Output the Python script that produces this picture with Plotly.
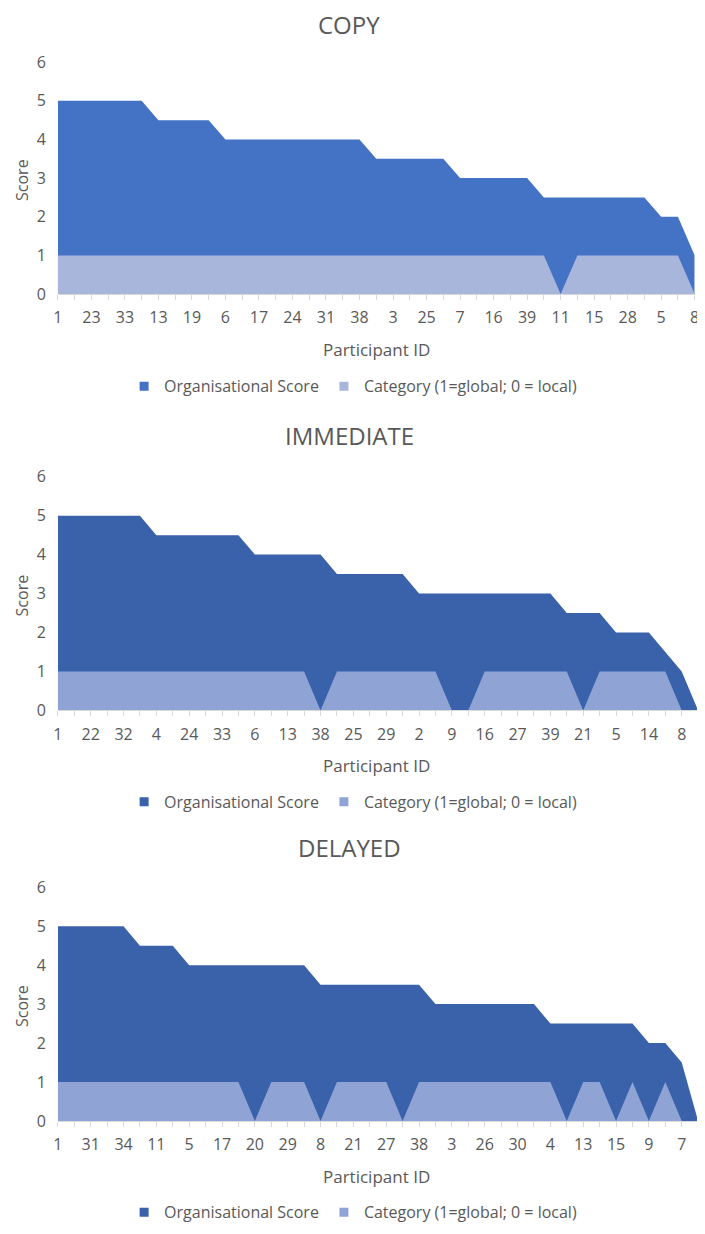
import plotly.graph_objects as go
from plotly.subplots import make_subplots

# participant ids in plotted order (only every other id is labelled on the axis)
copy_ids = [1, 2, 23, 4, 33, 9, 13, 10, 19, 12, 6, 14, 17, 18, 24, 20, 31, 21, 38, 22,
            3, 26, 25, 27, 7, 29, 16, 30, 39, 32, 11, 34, 15, 35, 28, 36, 5, 37, 8]
copy_org = [5, 5, 5, 5, 5, 5, 4.5, 4.5, 4.5, 4.5, 4, 4, 4, 4, 4, 4, 4, 4, 4,
            3.5, 3.5, 3.5, 3.5, 3.5, 3, 3, 3, 3, 3, 2.5, 2.5, 2.5, 2.5, 2.5, 2.5, 2.5,
            2, 2, 1]
copy_cat = [1, 1, 1, 1, 1, 1, 1, 1, 1, 1, 1, 1, 1, 1, 1, 1, 1, 1, 1, 1,
            1, 1, 1, 1, 1, 1, 1, 1, 1, 1, 0, 1, 1, 1, 1, 1, 1, 1, 0]

imm_ids = [1, 3, 22, 7, 32, 10, 4, 11, 24, 12, 33, 15, 6, 17, 13, 18, 38, 19, 25, 20,
           29, 23, 2, 26, 9, 28, 16, 30, 27, 31, 39, 34, 21, 35, 5, 36, 14, 37, 8, 40]
imm_org = [5, 5, 5, 5, 5, 5, 4.5, 4.5, 4.5, 4.5, 4.5, 4.5, 4, 4, 4, 4, 4,
           3.5, 3.5, 3.5, 3.5, 3.5, 3, 3, 3, 3, 3, 3, 3, 3, 3,
           2.5, 2.5, 2.5, 2, 2, 2, 1.5, 1, 0]
imm_cat = [1, 1, 1, 1, 1, 1, 1, 1, 1, 1, 1, 1, 1, 1, 1, 1, 0, 1, 1, 1,
           1, 1, 1, 1, 0, 0, 1, 1, 1, 1, 1, 1, 0, 1, 1, 1, 1, 1, 0, 0]

del_ids = [1, 2, 31, 6, 34, 10, 11, 12, 5, 14, 17, 16, 20, 18, 29, 19, 8, 22, 21, 23,
           27, 24, 38, 25, 3, 28, 26, 32, 30, 33, 4, 35, 13, 36, 15, 37, 9, 39, 7, 40]
del_org = [5, 5, 5, 5, 5, 4.5, 4.5, 4.5, 4, 4, 4, 4, 4, 4, 4, 4,
           3.5, 3.5, 3.5, 3.5, 3.5, 3.5, 3.5, 3, 3, 3, 3, 3, 3, 3,
           2.5, 2.5, 2.5, 2.5, 2.5, 2.5, 2, 2, 1.5, 0]
del_cat = [1, 1, 1, 1, 1, 1, 1, 1, 1, 1, 1, 1, 0, 1, 1, 1, 0, 1, 1, 1,
           1, 0, 1, 1, 1, 1, 1, 1, 1, 1, 1, 0, 1, 1, 0, 1, 0, 1, 0, 0]

titles = ["COPY", "IMMEDIATE", "DELAYED"]
series_names = ["Organisational Score", "Category (1=global; 0 = local)"]

panels = [
    (copy_ids, copy_org, copy_cat, "#4472C4", "#A9B6DB"),
    (imm_ids, imm_org, imm_cat, "#3A62AB", "#8FA3D5"),
    (del_ids, del_org, del_cat, "#3A62AB", "#8FA3D5"),
]

W, H = 705, 1234
OFF = 8  # the page body adds an 8px margin around the figure
FONT = "Open Sans"
GREY = "#595959"

def px(x):
    return (x - OFF) / W

def py(y):
    return 1 - (y - OFF) / H

# page pixel positions of each panel
geo = [
    dict(top=52, bot=288, title=14, xt=345, leg=382, right=699.5),
    dict(top=474, bot=712, title=432, xt=768, leg=805, right=703),
    dict(top=892, bot=1130, title=852, xt=1187, leg=1223, right=703),
]

fig = make_subplots(rows=3, cols=1)
annotations = []

for k, (ids, org, cat, dark, light) in enumerate(panels):
    r = k + 1
    leg = "legend" if k == 0 else f"legend{k + 1}"
    xs = [str(i) for i in ids]
    fig.add_trace(go.Scatter(x=xs, y=org, fill="tozeroy", mode="lines",
                             line=dict(width=0, color=dark), fillcolor=dark,
                             showlegend=False), row=r, col=1)
    fig.add_trace(go.Scatter(x=xs, y=cat, fill="tozeroy", mode="lines",
                             line=dict(width=0, color=light), fillcolor=light,
                             showlegend=False), row=r, col=1)
    # legend entries as square markers
    for name, c in zip(series_names, [dark, light]):
        fig.add_trace(go.Scatter(x=[None], y=[None], mode="markers", name=name,
                                 marker=dict(symbol="square", size=9, color=c),
                                 legend=leg), row=r, col=1)

    g = geo[k]
    ticktext = [s if j % 2 == 0 else "" for j, s in enumerate(xs)]
    fig.update_xaxes(type="category", categoryorder="array", categoryarray=xs,
                     range=[0, len(xs) - 1], tickmode="array", tickvals=xs,
                     ticktext=ticktext, ticks="outside", ticklen=5, tickcolor="#d9d9d9",
                     showline=True, linecolor="#d9d9d9", showgrid=False, zeroline=False,
                     tickfont=dict(size=16, color=GREY, family=FONT),
                     tickangle=0, ticklabelstandoff=4,
                     domain=[px(53.5), px(g["right"])], row=r, col=1)
    fig.update_yaxes(range=[0, 6], dtick=1, showgrid=False, zeroline=False,
                     showline=False, ticks="", ticklabelstandoff=11,
                     tickfont=dict(size=16, color=GREY, family=FONT),
                     domain=[py(g["bot"]), py(g["top"])], row=r, col=1)

    annotations.append(dict(text=titles[k], x=px(349), y=py(g["title"]), xref="paper",
                            yref="paper", showarrow=False, xanchor="center", yanchor="middle",
                            font=dict(size=24, color=GREY, family=FONT)))
    annotations.append(dict(text="Score", x=9 / W, y=py((g["top"] + g["bot"]) / 2 + 2),
                            xref="paper", yref="paper", showarrow=False, textangle=-90,
                            xanchor="center", yanchor="middle",
                            font=dict(size=16, color=GREY, family=FONT)))
    annotations.append(dict(text="Participant ID", x=px(377), y=py(g["xt"]), xref="paper",
                            yref="paper", showarrow=False, xanchor="center", yanchor="middle",
                            font=dict(size=17, color=GREY, family=FONT)))

legend_style = dict(orientation="h", x=px(353), xanchor="center", yanchor="middle",
                    font=dict(size=16, color=GREY, family=FONT), bgcolor="rgba(0,0,0,0)",
                    itemwidth=30, traceorder="normal")

fig.update_layout(
    width=W, height=H,
    margin=dict(l=0, r=0, t=0, b=0),
    paper_bgcolor="white", plot_bgcolor="white",
    annotations=annotations,
    legend=dict(legend_style, y=py(geo[0]["leg"])),
    legend2=dict(legend_style, y=py(geo[1]["leg"])),
    legend3=dict(legend_style, y=py(geo[2]["leg"])),
    font=dict(family=FONT, color=GREY),
)

fig.write_html("out.html")
